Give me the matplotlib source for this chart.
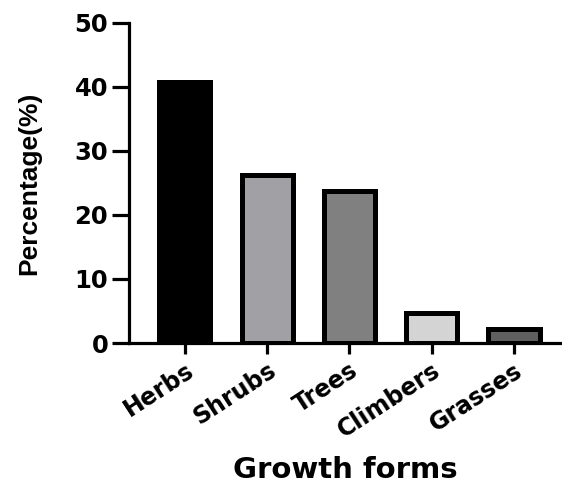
import matplotlib.pyplot as plt

forms = ["Herbs", "Shrubs", "Trees", "Climbers", "Grasses"]
percent = [40.7, 26.3, 23.8, 4.7, 2.2]
colors = ["#000000", "#a1a1a5", "#808080", "#d4d4d4", "#5f5f5f"]

fig = plt.figure(figsize=(5.62, 4.91), dpi=100)
ax = fig.add_axes([0.2295, 0.3014, 0.77, 0.652])

x = range(len(forms))
ax.bar(x, percent, width=0.62, color=colors, edgecolor="black", linewidth=3.6)

ax.set_ylim(0, 50)
ax.set_xlim(-0.68, 4.58)
ax.set_yticks(range(0, 51, 10))
ax.set_xticks(list(x))

for s in ["top", "right"]:
    ax.spines[s].set_visible(False)
for s in ["left", "bottom"]:
    ax.spines[s].set_linewidth(2.3)

ax.tick_params(axis="y", length=12, width=2.3, pad=3)
ax.tick_params(axis="x", length=8, width=2.3, pad=3)

for lab in ax.get_yticklabels():
    lab.set_fontfamily("DejaVu Sans")
    lab.set_fontweight("heavy")
    lab.set_fontsize(17.5)

ax.set_xticklabels(forms, rotation=33, ha="right", rotation_mode="anchor",
                   fontfamily="DejaVu Sans", fontweight="heavy", fontsize=17)

ax.set_xlabel("Growth forms", fontfamily="DejaVu Sans", fontweight="heavy",
              fontsize=21, labelpad=10)
ax.set_ylabel("Percentage(%)", fontfamily=["Liberation Sans", "DejaVu Sans"],
              fontweight="bold", fontsize=19, labelpad=24)

fig.savefig("out.png", dpi=100)
